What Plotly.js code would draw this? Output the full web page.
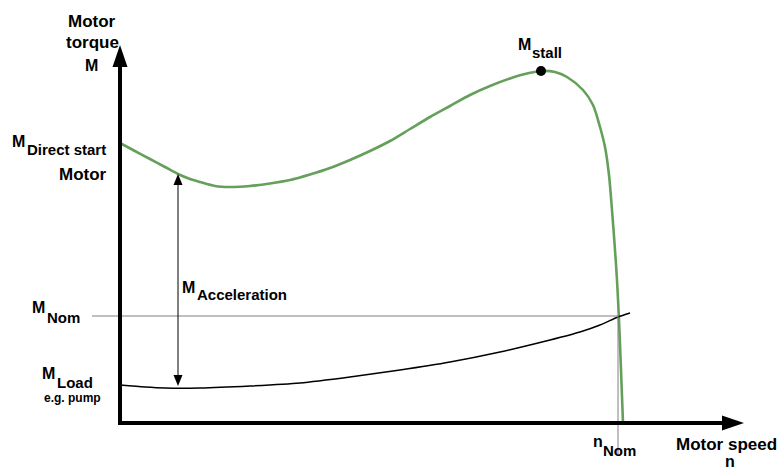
<!DOCTYPE html>
<html>
<head>
<meta charset="utf-8">
<script src="https://cdn.plot.ly/plotly-3.0.1.min.js"></script>
<style>html,body{margin:0;padding:0;background:#fff;}#chart{width:780px;height:469px;}</style>
</head>
<body>
<div id="chart"></div>
<script>
// Motor torque characteristic (schematic units: speed n, torque M)
var motorSpeed  = [0,13,30,45,58,70,80,95,110,130,150,170,190,210,230,250,270,290,310,330,350,370,390,405,421,435,447,463,473,480,485,489,492,495,497,499,501,503];
var motorTorque = [280,273,264,256,249,244,241,237,236,237,239.5,243,248.5,255,263,272,282,294,306,317,328,337,344.5,349,352,351,346,333,318,296,276,248,213,173,143,103,53,0];

// Load torque (e.g. pump)
var loadSpeed  = [0,25,45,80,130,180,230,280,330,380,430,460,480,498,510];
var loadTorque = [38,36,35,35,37,40,46,53,61,71,83,91,98,106,110];

// Key points
var stallSpeed = [421], stallTorque = [352];
var nNom = 498, mNom = 107;
var accelSpeed = 58, accelLow = 37, accelHigh = 249;

// axis extents
var xAxisEnd = 624, yAxisEnd = 378;

var green = 'rgb(101,160,91)';
var font = 'Liberation Sans, Arial, sans-serif';

function px(x){return x/780;}
function py(y){return 1 - y/469;}

function lab(text, x, y, size, xanchor){
  return {text:'<b>'+text+'</b>', xref:'paper', yref:'paper', x:px(x), y:py(y),
    xanchor:xanchor||'left', yanchor:'middle', showarrow:false, borderpad:0,
    font:{family:font, size:size, color:'#000'}};
}

var traces = [
  {x:motorSpeed, y:motorTorque, type:'scatter', mode:'lines', line:{color:green, width:2.6, shape:'spline', smoothing:0.8}, cliponaxis:false, hoverinfo:'skip'},
  {x:loadSpeed, y:loadTorque, type:'scatter', mode:'lines', line:{color:'#000', width:1.5, shape:'spline', smoothing:0.7}, cliponaxis:false, hoverinfo:'skip'},
  {x:stallSpeed, y:stallTorque, type:'scatter', mode:'markers', marker:{color:'#000', size:10}, cliponaxis:false, hoverinfo:'skip'}
];

function upHead(x, y, len, hw){ return 'M'+x+','+y+' L'+(x-hw)+','+(y-len)+' L'+(x+hw)+','+(y-len)+' Z'; }
function downHead(x, y, len, hw){ return 'M'+x+','+y+' L'+(x-hw)+','+(y+len)+' L'+(x+hw)+','+(y+len)+' Z'; }
function rightHead(x, y, len, hw){ return 'M'+x+','+y+' L'+(x-len)+','+(y-hw)+' L'+(x-len)+','+(y+hw)+' Z'; }

var shapes = [
  // nominal lines
  {type:'line', xref:'x', yref:'y', x0:-28, x1:nNom, y0:mNom, y1:mNom, line:{color:'#808080', width:1}},
  {type:'line', xref:'x', yref:'y', x0:nNom, x1:nNom, y0:mNom, y1:-32, line:{color:'#808080', width:1}},
  // axes
  {type:'line', xref:'x', yref:'y', x0:0, x1:0, y0:-2, y1:yAxisEnd-20, line:{color:'#000', width:4}},
  {type:'line', xref:'x', yref:'y', x0:-2, x1:xAxisEnd-20, y0:0, y1:0, line:{color:'#000', width:4}},
  {type:'path', xref:'x', yref:'y', path:upHead(0, yAxisEnd, 22, 7.5), fillcolor:'#000', line:{width:0}},
  {type:'path', xref:'x', yref:'y', path:rightHead(xAxisEnd, 0, 22, 7.5), fillcolor:'#000', line:{width:0}},
  // acceleration double arrow
  {type:'line', xref:'x', yref:'y', x0:accelSpeed, x1:accelSpeed, y0:accelLow+8, y1:accelHigh-8, line:{color:'#000', width:1}},
  {type:'path', xref:'x', yref:'y', path:upHead(accelSpeed, accelHigh, 11, 4.5), fillcolor:'#000', line:{width:0}},
  {type:'path', xref:'x', yref:'y', path:downHead(accelSpeed, accelLow, 11, 4.5), fillcolor:'#000', line:{width:0}}
];

var annotations = [
  lab('Motor', 92, 21, 17, 'center'),
  lab('torque', 92, 42, 17, 'center'),
  lab('M', 91, 65, 16, 'center'),
  lab('M', 11, 141, 16),
  lab('Direct start', 26, 149, 15),
  lab('Motor', 83, 175, 17, 'center'),
  lab('M', 31, 307, 16),
  lab('Nom', 46, 317, 15),
  lab('M', 41, 373, 16),
  lab('Load', 56, 382, 15),
  lab('e.g. pump', 72, 398, 12, 'center'),
  lab('M', 517, 44, 16),
  lab('stall', 531, 52, 15),
  lab('M', 181, 287, 16),
  lab('Acceleration', 196, 294, 15),
  lab('n', 592, 441, 16),
  lab('Nom', 602, 450, 15),
  lab('Motor speed', 726, 444, 17, 'center'),
  lab('n', 730, 461, 16, 'center')
];

var layout = {
  width:780, height:469, autosize:false,
  margin:{l:0, r:0, t:0, b:0, pad:0},
  paper_bgcolor:'#fff', plot_bgcolor:'#fff',
  showlegend:false,
  xaxis:{range:[-120,660], visible:false, fixedrange:true},
  yaxis:{range:[-46,423], visible:false, fixedrange:true},
  shapes:shapes, annotations:annotations
};

Plotly.newPlot('chart', traces, layout, {staticPlot:true, displayModeBar:false});
</script>
</body>
</html>
